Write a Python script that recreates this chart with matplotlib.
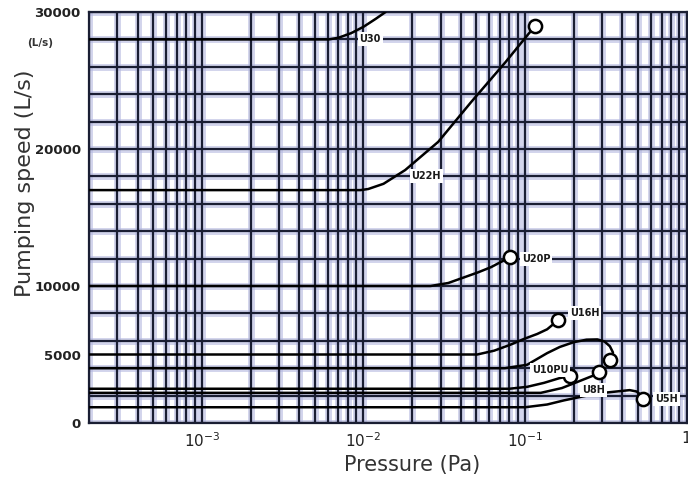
import numpy as np
import matplotlib
matplotlib.use("Agg")
import matplotlib.pyplot as plt

# ---------------- data ----------------
u30_x = [2e-4, 0.0061, 0.0070, 0.0084, 0.0100, 0.0119, 0.0137]
u30_y = [28000, 28000, 28120, 28460, 28920, 29500, 30000]

u22h_x = [2e-4, 0.0096, 0.0107, 0.0133, 0.0181, 0.029, 0.0464, 0.0753, 0.105, 0.115]
u22h_y = [17000, 17000, 17080, 17460, 18460, 20520, 23430, 26310, 28400, 28950]

u20p_x = [2e-4, 0.026, 0.0335, 0.0426, 0.0513, 0.0617, 0.0734, 0.081]
u20p_y = [10000, 10000, 10220, 10660, 11000, 11380, 11850, 12150]

u16h_x = [2e-4, 0.0506, 0.0644, 0.081, 0.0986, 0.119, 0.137, 0.16]
u16h_y = [5000, 5000, 5280, 5710, 6140, 6500, 6840, 7500]

u12_x = [2e-4, 0.075, 0.103, 0.137, 0.164, 0.20, 0.24, 0.28, 0.31, 0.335, 0.35, 0.345, 0.335]
u12_y = [4000, 4000, 4250, 5100, 5550, 5900, 6080, 6100, 5950, 5600, 5150, 4800, 4570]

u10pu_x = [2e-4, 0.08, 0.103, 0.131, 0.164, 0.19]
u10pu_y = [2500, 2500, 2640, 2930, 3280, 3420]

u8h_x = [2e-4, 0.125, 0.169, 0.209, 0.267, 0.286]
u8h_y = [2200, 2200, 2550, 2980, 3480, 3700]

u5h_x = [2e-4, 0.10, 0.137, 0.174, 0.23, 0.278, 0.335, 0.444, 0.49, 0.52, 0.535]
u5h_y = [1150, 1150, 1350, 1650, 1950, 2150, 2250, 2400, 2300, 2050, 1750]

series = [
    (u30_x, u30_y, False),
    (u22h_x, u22h_y, True),
    (u20p_x, u20p_y, True),
    (u16h_x, u16h_y, True),
    (u12_x, u12_y, True),
    (u10pu_x, u10pu_y, True),
    (u8h_x, u8h_y, True),
    (u5h_x, u5h_y, True),
]

label_text = ["U30", "U22H", "U20P", "U16H", "U10PU", "U8H", "U5H"]
label_x = [0.0110, 0.0245, 0.117, 0.234, 0.143, 0.265, 0.753]
label_y = [28000, 18000, 12000, 8000, 3850, 2380, 1750]

ytick_vals = [0, 5000, 10000, 20000, 30000]
ytick_labels = ["0", "5000", "10000", "20000", "30000"]
xtick_vals = [1e-3, 1e-2, 1e-1, 1]
xtick_labels = [r"$10^{-3}$", r"$10^{-2}$", r"$10^{-1}$", "1"]

# ---------------- figure ----------------
fig = plt.figure(figsize=(6.88, 4.82), dpi=100)
ax = fig.add_axes([89/688, 1-423/482, (688-89)/688 - 0.002, (423-12)/482])
ax.set_xscale("log")
ax.set_xlim(2e-4, 1)
ax.set_ylim(0, 30000)

# grid positions
xgrid = [n * 10.0**k for k in range(-4, 1) for n in range(1, 10) if 2e-4 <= n * 10.0**k <= 1]
ygrid = list(range(0, 30001, 2000))

halo = dict(color="#b4b8e0", lw=5, alpha=0.6, zorder=0.3)
core = dict(color="#1a1e33", lw=1.6, zorder=0.6)
for xv in xgrid:
    ax.axvline(xv, **halo)
    ax.axvline(xv, **core)
for yv in ygrid:
    ax.axhline(yv, **halo)
    ax.axhline(yv, **core)

# curves
for xs, ys, circ in series:
    ax.plot(xs, ys, color="black", lw=1.8, zorder=3, solid_capstyle="round",
            solid_joinstyle="round")
    if circ:
        ax.plot([xs[-1]], [ys[-1]], marker="o", ms=9.5, mfc="white",
                mec="black", mew=1.8, zorder=4, linestyle="none")

# labels
for t, lx, ly in zip(label_text, label_x, label_y):
    ax.text(lx, ly, t, fontsize=7, fontweight="bold", color="#1a1a1a",
            ha="center", va="center", zorder=5,
            bbox=dict(boxstyle="square,pad=0.2", fc="white", ec="none"))

# ticks
ax.set_yticks(ytick_vals, labels=ytick_labels)
ax.set_xticks(xtick_vals, labels=xtick_labels)
ax.set_xticks([], minor=True)
ax.tick_params(axis="both", which="both", length=0)
ax.tick_params(axis="y", pad=6, labelsize=9.5, labelcolor="#222222")
ax.tick_params(axis="x", pad=6, labelsize=11, labelcolor="#222222")
for lab in ax.get_yticklabels():
    lab.set_fontweight("bold")

for sp in ax.spines.values():
    sp.set_color("#1a1e33")
    sp.set_linewidth(1.6)

ax.set_xlabel("Pressure (Pa)", fontsize=15, color="#333333")
ax.xaxis.set_label_coords(0.541, -0.078)
ax.set_ylabel("Pumping speed (L/s)", fontsize=16, color="#333333")
ax.yaxis.set_label_coords(-0.09, 0.584)

fig.text(40/688, 1-43/482, "(L/s)", fontsize=7.5, fontweight="bold",
         color="#333333", ha="center", va="center")

fig.savefig("out.png", dpi=100)
